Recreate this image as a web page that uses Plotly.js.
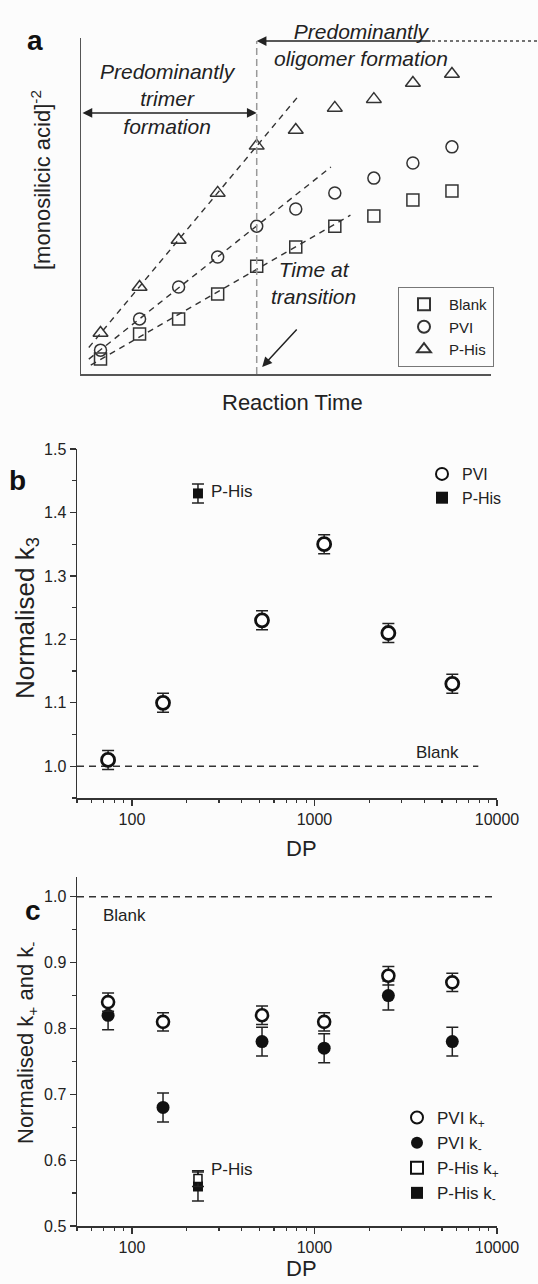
<!DOCTYPE html>
<html><head><meta charset="utf-8">
<script src="https://cdn.plot.ly/plotly-3.0.1.min.js"></script>
<style>html,body{margin:0;padding:0;background:#fcfcfc}#chart{width:538px;height:1284px}</style>
</head><body><div id="chart"></div>
<script>
// ---------- Panel a (arbitrary units) ----------
const timeA  = [1, 2, 3, 4, 5, 6, 7, 8, 9, 10];
const blankA = [4.5, 11.9, 16.4, 23.8, 32.1, 37.8, 44.0, 47.0, 51.8, 54.5];
const pviA   = [7.1, 16.4, 25.9, 34.8, 44.0, 49.1, 53.9, 58.3, 62.8, 67.6];
const phisA  = [12.2, 25.9, 39.9, 53.9, 67.9, 72.6, 79.2, 81.8, 86.6, 89.3];
const transitionTime = 5;
const fitCount = 5;                 // points before the transition used for the linear fits
const fitSpanBlank = [0.75, 7.4];
const fitSpanPVI   = [0.7, 6.9];
const fitSpanPHis  = [0.7, 6.05];
const seriesNamesA = ['Blank', 'PVI', 'P-His'];

// ---------- Panel b ----------
const dpPVI     = [74, 148, 516, 1130, 2540, 5690];
const k3PVI     = [1.01, 1.10, 1.23, 1.35, 1.21, 1.13];
const k3PVIerr  = [0.015, 0.015, 0.015, 0.015, 0.015, 0.015];
const dpPHis    = [230];
const k3PHis    = [1.43];
const k3PHisErr = [0.015];
const blankLevel = 1.0;
const blankSpanB = [50, 7900];

// ---------- Panel c ----------
const kPlusPVI      = [0.84, 0.81, 0.82, 0.81, 0.88, 0.87];
const kPlusPVIerr   = [0.014, 0.014, 0.014, 0.014, 0.014, 0.014];
const kMinusPVI     = [0.82, 0.68, 0.78, 0.77, 0.85, 0.78];
const kMinusPVIerr  = [0.022, 0.022, 0.022, 0.022, 0.022, 0.022];
const kPlusPHis     = [0.572];
const kPlusPHisErr  = [0.012];
const kMinusPHis    = [0.56];
const kMinusPHisErr = [0.022];
const blankSpanC = [50, 10000];

const majorDP = [100, 1000, 10000];
const minorDP = [50,60,70,80,90,200,300,400,500,600,700,800,900,2000,3000,4000,5000,6000,7000,8000,9000];

// ---------- helpers ----------
const W = 538, H = 1284;
const px = v => v / W;
const py = v => 1 - v / H;
const FONT = 'Liberation Sans, Arial, sans-serif';
const INK = '#222';

function linFit(xs, ys, n) {
  const x = xs.slice(0, n), y = ys.slice(0, n);
  const mx = x.reduce((a, b) => a + b, 0) / n, my = y.reduce((a, b) => a + b, 0) / n;
  let sxy = 0, sxx = 0;
  for (let i = 0; i < n; i++) { sxy += (x[i] - mx) * (y[i] - my); sxx += (x[i] - mx) ** 2; }
  const m = sxy / sxx; return { m, b: my - m * mx };
}
function fitTrace(ys, span) {
  const f = linFit(timeA, ys, fitCount);
  return { x: span, y: span.map(v => f.m * v + f.b), mode: 'lines', xaxis: 'x', yaxis: 'y',
    line: { color: '#333', width: 1.4, dash: '6px,5px' }, showlegend: false, hoverinfo: 'skip' };
}

const traces = [];
// panel a
traces.push(fitTrace(blankA, fitSpanBlank), fitTrace(pviA, fitSpanPVI), fitTrace(phisA, fitSpanPHis));
const symA = ['square-open', 'circle-open', 'triangle-up-open'];
[blankA, pviA, phisA].forEach((ys, i) => traces.push({
  x: timeA, y: ys, name: seriesNamesA[i], mode: 'markers', xaxis: 'x', yaxis: 'y', legend: 'legend',
  marker: { symbol: symA[i], size: i === 2 ? 13 : 12, color: '#333', line: { width: 1.5, color: '#333' } }
}));

// panel b
traces.push({ x: blankSpanB, y: [blankLevel, blankLevel], mode: 'lines', xaxis: 'x2', yaxis: 'y2',
  line: { color: '#333', width: 1.4, dash: '7px,5px' }, showlegend: false, hoverinfo: 'skip' });
traces.push({ x: dpPVI, y: k3PVI, name: 'PVI', mode: 'markers', xaxis: 'x2', yaxis: 'y2', legend: 'legend2',
  marker: { symbol: 'circle', size: 13, color: '#fff', line: { width: 2.8, color: '#111' } },
  error_y: { type: 'data', array: k3PVIerr, color: '#222', thickness: 1.5, width: 6 } });
traces.push({ x: dpPHis, y: k3PHis, name: 'P-His', mode: 'markers', xaxis: 'x2', yaxis: 'y2', legend: 'legend2',
  marker: { symbol: 'square', size: 10, color: '#111' },
  error_y: { type: 'data', array: k3PHisErr, color: '#222', thickness: 1.5, width: 6 } });

// panel c
traces.push({ x: blankSpanC, y: [blankLevel, blankLevel], mode: 'lines', xaxis: 'x3', yaxis: 'y3',
  line: { color: '#333', width: 1.4, dash: '7px,5px' }, showlegend: false, hoverinfo: 'skip' });
traces.push({ x: dpPVI, y: kMinusPVI, name: 'PVI k<sub>-</sub>', legendrank: 2, mode: 'markers', xaxis: 'x3', yaxis: 'y3', legend: 'legend3',
  marker: { symbol: 'circle', size: 13, color: '#111' },
  error_y: { type: 'data', array: kMinusPVIerr, color: '#222', thickness: 1.5, width: 6 } });
traces.push({ x: dpPVI, y: kPlusPVI, name: 'PVI k<sub>+</sub>', legendrank: 1, mode: 'markers', xaxis: 'x3', yaxis: 'y3', legend: 'legend3',
  marker: { symbol: 'circle', size: 12, color: '#fff', line: { width: 2.6, color: '#111' } },
  error_y: { type: 'data', array: kPlusPVIerr, color: '#222', thickness: 1.5, width: 6 } });
traces.push({ x: dpPHis, y: kMinusPHis, name: 'P-His k<sub>-</sub>', legendrank: 4, mode: 'markers', xaxis: 'x3', yaxis: 'y3', legend: 'legend3',
  marker: { symbol: 'square', size: 10, color: '#111' },
  error_y: { type: 'data', array: kMinusPHisErr, color: '#222', thickness: 1.5, width: 6 } });
traces.push({ x: dpPHis, y: kPlusPHis, name: 'P-His k<sub>+</sub>', legendrank: 3, mode: 'markers', xaxis: 'x3', yaxis: 'y3', legend: 'legend3',
  marker: { symbol: 'square', size: 8, color: '#fff', line: { width: 1.5, color: '#111' } },
  error_y: { type: 'data', array: kPlusPHisErr, color: '#222', thickness: 1.5, width: 6 } });

const axLine = { showline: true, linecolor: '#333', linewidth: 1.5, showgrid: false, zeroline: false,
  tickfont: { family: FONT, size: 16, color: INK }, tickcolor: '#333' };
const logX = Object.assign({}, axLine, { type: 'log', range: [Math.log10(50), 4], tickvals: majorDP,
  ticktext: majorDP.map(String), ticks: 'outside', ticklen: 6, tickwidth: 1.3,
  minor: { tickvals: minorDP, ticks: 'outside', ticklen: 3.5, tickwidth: 1.2, tickcolor: '#333' } });

const layout = {
  width: W, height: H, margin: { l: 0, r: 0, t: 0, b: 0 },
  paper_bgcolor: '#fcfcfc', plot_bgcolor: 'rgba(0,0,0,0)',
  font: { family: FONT, color: INK },
  xaxis: Object.assign({}, axLine, { domain: [px(81), px(491)], range: [0.5, 11], showticklabels: false, ticks: '', anchor: 'y', linecolor: '#555' }),
  yaxis: Object.assign({}, axLine, { domain: [py(374), py(38)], range: [0, 100], showticklabels: false, ticks: '', anchor: 'x', linecolor: '#555' }),
  xaxis2: Object.assign({}, logX, { domain: [px(77), px(497)], anchor: 'y2' }),
  yaxis2: Object.assign({}, axLine, { domain: [py(798), py(449)], range: [0.95, 1.5], dtick: 0.1, tick0: 0, tickformat: '.1f',
    ticks: 'outside', ticklen: 6, tickwidth: 1.3, anchor: 'x2',
    minor: { dtick: 0.05, tick0: 0, ticks: 'outside', ticklen: 3.5, tickwidth: 1.2, tickcolor: '#333' } }),
  xaxis3: Object.assign({}, logX, { domain: [px(77), px(497)], anchor: 'y3' }),
  yaxis3: Object.assign({}, axLine, { domain: [py(1226), py(877)], range: [0.5, 1.03], dtick: 0.1, tick0: 0, tickformat: '.1f',
    ticks: 'outside', ticklen: 6, tickwidth: 1.3, anchor: 'x3',
    minor: { dtick: 0.05, tick0: 0, ticks: 'outside', ticklen: 3.5, tickwidth: 1.2, tickcolor: '#333' } }),
  legend: { x: px(398), y: py(287), xanchor: 'left', yanchor: 'top', bgcolor: 'rgba(0,0,0,0)', itemsizing: 'constant',
    bordercolor: '#777', borderwidth: 1, itemwidth: 40, font: { family: FONT, size: 15, color: INK } },
  legend2: { x: px(422), y: py(457), xanchor: 'left', yanchor: 'top', bgcolor: 'rgba(0,0,0,0)', itemsizing: 'constant',
    font: { family: FONT, size: 16, color: INK } },
  legend3: { x: px(397), y: py(1100), xanchor: 'left', yanchor: 'top', bgcolor: 'rgba(0,0,0,0)', itemsizing: 'constant',
    traceorder: 'grouped', tracegroupgap: 2, font: { family: FONT, size: 17, color: INK } },
  shapes: [
    { type: 'line', xref: 'x', yref: 'y', x0: transitionTime, x1: transitionTime, y0: 0, y1: 99.1,
      line: { color: '#999', width: 1.5, dash: '7px,4px' } },
    { type: 'line', xref: 'paper', yref: 'paper', x0: px(432), x1: px(537), y0: py(41), y1: py(41),
      line: { color: '#444', width: 1.5, dash: 'dot' } }
  ],
  annotations: []
};

const A = layout.annotations;
const txt = (o) => A.push(Object.assign({ showarrow: false, xanchor: 'center', yanchor: 'middle',
  font: { family: FONT, size: 17, color: INK } }, o));
// panel letters
txt({ xref: 'paper', yref: 'paper', x: px(35), y: py(40), text: '<b>a</b>', font: { family: FONT, size: 28, color: '#111' } });
txt({ xref: 'paper', yref: 'paper', x: px(17), y: py(480), text: '<b>b</b>', font: { family: FONT, size: 28, color: '#111' } });
txt({ xref: 'paper', yref: 'paper', x: px(33), y: py(910), text: '<b>c</b>', font: { family: FONT, size: 28, color: '#111' } });
// axis titles
txt({ xref: 'paper', yref: 'paper', x: px(41), y: py(180), textangle: -90, text: '[monosilicic acid]<sup>-2</sup>', font: { family: FONT, size: 22, color: INK } });
txt({ xref: 'paper', yref: 'paper', x: px(292), y: py(403), text: 'Reaction Time', font: { family: FONT, size: 22, color: INK } });
txt({ xref: 'paper', yref: 'paper', x: px(26), y: py(618), textangle: -90, text: 'Normalised k<sub>3</sub>', font: { family: FONT, size: 26, color: INK } });
txt({ xref: 'paper', yref: 'paper', x: px(301), y: py(848), text: 'DP', font: { family: FONT, size: 22, color: INK } });
txt({ xref: 'paper', yref: 'paper', x: px(27), y: py(1043), textangle: -90, text: 'Normalised k<sub>+</sub> and k<sub>-</sub>', font: { family: FONT, size: 22, color: INK } });
txt({ xref: 'paper', yref: 'paper', x: px(301), y: py(1268), text: 'DP', font: { family: FONT, size: 22, color: INK } });
// panel a italic notes
const it = { family: FONT, size: 21, color: INK };
txt({ xref: 'x', yref: 'y', x: 2.74, y: 81.8, text: '<i>Predominantly<br>trimer<br>formation</i>', font: it });
txt({ xref: 'x', yref: 'y', x: 7.68, y: 97.8, text: '<i>Predominantly<br>oligomer formation</i>', font: it });
txt({ xref: 'x', yref: 'y', x: 6.46, y: 27.1, text: '<i>Time at<br>transition</i>', font: it });
// arrows in panel a
const arrow = { showarrow: true, text: '', arrowhead: 2, arrowsize: 1.3, arrowwidth: 1.5, arrowcolor: '#222', standoff: 0, startstandoff: 0 };
A.push(Object.assign({}, arrow, { xref: 'x', yref: 'y', axref: 'x', ayref: 'y', x: transitionTime, y: 99.1, ax: 9.49, ay: 99.1 }));
A.push(Object.assign({}, arrow, { xref: 'x', yref: 'y', axref: 'x', ayref: 'y', x: transitionTime, y: 77.7, ax: 0.5, ay: 77.7, arrowside: 'end+start', startarrowhead: 2, startarrowsize: 1.3 }));
A.push(Object.assign({}, arrow, { xref: 'x', yref: 'y', axref: 'x', ayref: 'y', x: 5.14, y: 2.1, ax: 6.06, ay: 13.7 }));
// panel b / c labels
txt({ xref: 'x2', yref: 'y2', x: Math.log10(265), y: 1.433, xanchor: 'left', text: 'P-His' });
txt({ xref: 'x2', yref: 'y2', x: Math.log10(4700), y: 1.022, text: 'Blank' });
txt({ xref: 'x3', yref: 'y3', x: Math.log10(68), y: 0.971, xanchor: 'left', text: 'Blank' });
txt({ xref: 'x3', yref: 'y3', x: Math.log10(265), y: 0.586, xanchor: 'left', text: 'P-His' });

Plotly.newPlot('chart', traces, layout, { staticPlot: true, displayModeBar: false });
</script></body></html>
